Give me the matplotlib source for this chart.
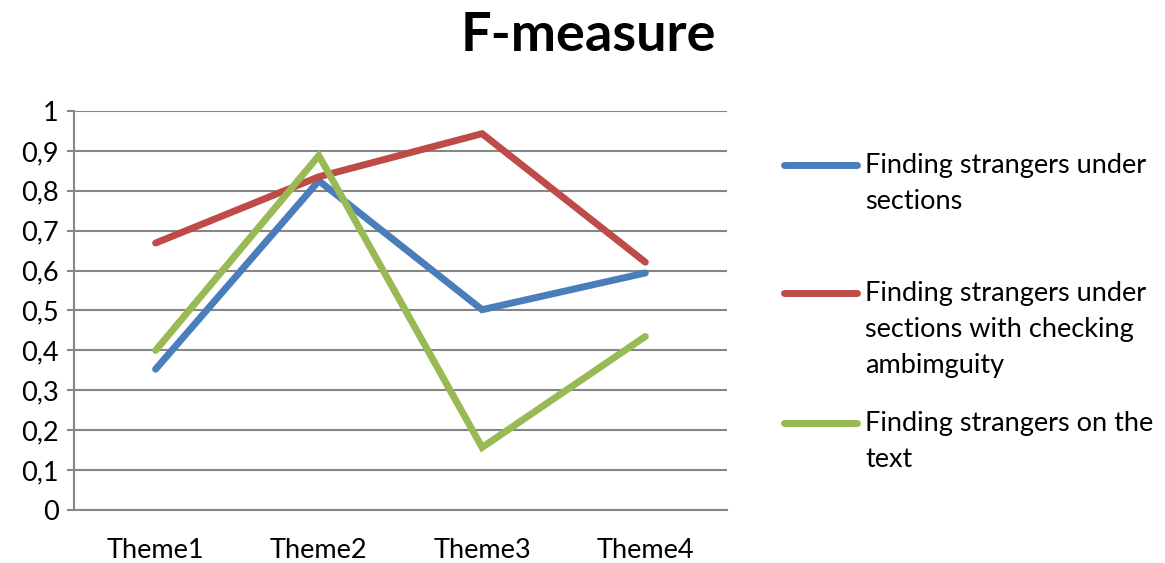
import matplotlib.pyplot as plt
from matplotlib.lines import Line2D
from matplotlib.ticker import FuncFormatter

plt.rcParams['font.family'] = ['Lato', 'DejaVu Sans']

themes = ['Theme1', 'Theme2', 'Theme3', 'Theme4']
under_sections = [0.353, 0.825, 0.502, 0.594]
with_ambiguity = [0.669, 0.835, 0.943, 0.621]
on_text = [0.40, 0.888, 0.157, 0.435]

series_labels = [
    'Finding strangers under\nsections',
    'Finding strangers under\nsections with checking\nambimguity',
    'Finding strangers on the\ntext',
]
colors = ['#4A7EBB', '#BE4B48', '#98B954']

fig = plt.figure(figsize=(11.65, 5.63), dpi=100)
ax = fig.add_axes([0.0635, 0.094, 0.5605, 0.709])

x = range(1, len(themes) + 1)
for vals, col in zip([under_sections, with_ambiguity, on_text], colors):
    ax.plot(x, vals, color=col, lw=5, solid_capstyle='round',
            solid_joinstyle='miter', zorder=3)

ax.set_xlim(0.5, 4.5)
ax.set_ylim(0, 1)
ax.set_yticks([i / 10 for i in range(11)])
ax.yaxis.set_major_formatter(
    FuncFormatter(lambda v, _: f'{v:.1f}'.replace('.', ',')
                  if v not in (0, 1) else str(int(v))))
ax.set_xticks(list(x))
ax.set_xticklabels(themes)
ax.grid(axis='y', color='#868686', lw=1.5)
ax.set_axisbelow(True)
for side in ['top', 'right']:
    ax.spines[side].set_visible(False)
for side in ['left', 'bottom']:
    ax.spines[side].set_color('#868686')
    ax.spines[side].set_linewidth(1.5)
ax.tick_params(axis='y', length=5, width=1.5, color='#868686',
               labelsize=19.5, pad=6)
ax.tick_params(axis='x', length=0, labelsize=19.5, pad=20)

fig.suptitle('F-measure', x=0.505, y=0.98, fontsize=39, fontweight='bold')

# legend drawn by hand so the swatch sits on each label's first line
legend_y = [1 - 165 / 563, 1 - 293 / 563, 1 - 423 / 563]
for ly, col, lab in zip(legend_y, colors, series_labels):
    fig.add_artist(Line2D([784 / 1165, 857 / 1165], [ly, ly], color=col,
                          lw=5, solid_capstyle='round'))
    fig.text(865 / 1165, ly + 0.021, lab, fontsize=19.5, va='top', ha='left',
             linespacing=1.55)

fig.savefig('out.png', dpi=100)
